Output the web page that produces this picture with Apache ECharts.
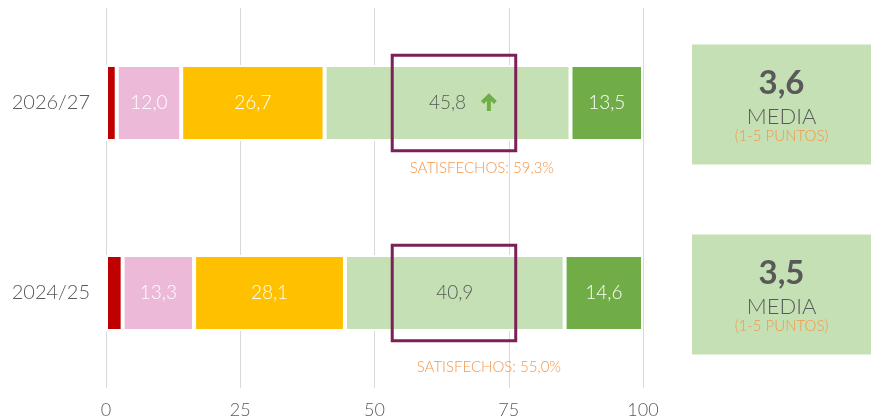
<!DOCTYPE html>
<html>
<head>
<meta charset="utf-8">
<script src="https://cdn.jsdelivr.net/npm/echarts@6/dist/echarts.min.js"></script>
<style>
    html, body { margin: 0; padding: 0; background: #fff; }
    #chart { width: 871px; height: 419px; }
</style>
</head>
<body>
<div id="chart"></div>
<script>
    // periodos (de abajo a arriba)
    const periods = ['2024/25', '2026/27']
    // % por nivel de satisfacción
    const muyInsatisfechos = [3.1, 2.0]
    const insatisfechos = [13.3, 12.0]
    const neutros = [28.1, 26.7]
    const satisfechos = [40.9, 45.8]
    const muySatisfechos = [14.6, 13.5]
    // anotaciones
    const totalSatisfechos = [55.0, 59.3]
    const medias = [3.5, 3.6]
    const tendencia = [null, 'up']
    const xTicks = [0, 25, 50, 75, 100]
    // tramo marcado con recuadro
    const recuadro = [53.3, 76.3]

    const GRAY = '#595959'
    const ORANGE = '#F79646'
    const FONT = 'Lato'
    const LIGHT = 300
    const fmt = v => v.toFixed(1).replace('.', ',')

    function barSeries (name, data, color, labelColor) {
        return {
            name: name,
            type: 'bar',
            stack: 'total',
            data: data,
            barWidth: 76,
            itemStyle: { color: color, borderColor: '#fff', borderWidth: 2 },
            label: {
                show: !!labelColor,
                position: 'inside',
                color: labelColor,
                fontSize: 19,
                fontWeight: LIGHT,
                fontFamily: FONT,
                formatter: p => fmt(p.value)
            }
        }
    }

    // recuadro, texto de satisfechos, flecha y caja de media
    function renderNotes (params, api) {
        const i = api.value(0)
        const a = api.coord([recuadro[0], i])
        const b = api.coord([recuadro[1], i])
        const h = api.size([0, 1])[1] * 0.503
        const cy = a[1]
        const children = [{
            type: 'rect',
            shape: { x: a[0], y: cy - h / 2, width: b[0] - a[0], height: h },
            style: { fill: 'none', stroke: '#7B2157', lineWidth: 3 }
        }, {
            type: 'text',
            x: api.coord([i === 0 ? 71.3 : 70.0, i])[0],
            y: cy + h / 2 + (i === 0 ? 26 : 17),
            style: {
                text: 'SATISFECHOS: ' + fmt(totalSatisfechos[i]) + '%',
                fill: ORANGE, fontSize: 15, fontWeight: LIGHT, fontFamily: FONT,
                align: 'center', verticalAlign: 'middle'
            }
        }]
        if (tendencia[i] === 'up') {
            const p = api.coord([71.3, i])
            children.push({
                type: 'polyline',
                shape: { points: [[p[0] - 6.5, p[1] - 0.5], [p[0], p[1] - 7], [p[0] + 6.5, p[1] - 0.5]] },
                style: { stroke: '#70AD47', lineWidth: 4, fill: 'none' }
            }, {
                type: 'line',
                shape: { x1: p[0], y1: p[1] - 7, x2: p[0], y2: p[1] + 8 },
                style: { stroke: '#70AD47', lineWidth: 4 }
            })
        }
        const bx = api.coord([100, i])[0] + 49
        const by = cy + 1.5
        const mx = (bx + api.getWidth()) / 2
        children.push({
            type: 'rect',
            shape: { x: bx, y: by - 60, width: api.getWidth() - bx, height: 120 },
            style: { fill: '#C5E0B4' }
        }, {
            type: 'text',
            x: mx, y: by - 21,
            style: { text: fmt(medias[i]), fill: GRAY, fontSize: 33, fontWeight: 'bold', fontFamily: FONT, align: 'center', verticalAlign: 'middle' }
        }, {
            type: 'text',
            x: mx, y: by + 12,
            style: { text: 'MEDIA', fill: GRAY, fontSize: 22, fontWeight: LIGHT, fontFamily: FONT, align: 'center', verticalAlign: 'middle' }
        }, {
            type: 'text',
            x: mx, y: by + 32,
            style: { text: '(1-5 PUNTOS)', fill: ORANGE, fontSize: 15, fontWeight: LIGHT, fontFamily: FONT, align: 'center', verticalAlign: 'middle' }
        })
        return { type: 'group', children: children }
    }

    const chart = echarts.init(document.getElementById('chart'))
    chart.setOption({
        animation: false,
        grid: { left: 106, right: 228, top: 8, bottom: 29 },
        xAxis: {
            type: 'value',
            min: xTicks[0],
            max: xTicks[xTicks.length - 1],
            interval: xTicks[1] - xTicks[0],
            axisLine: { show: false },
            axisTick: { show: false },
            splitLine: { lineStyle: { color: '#d9d9d9', width: 1 } },
            axisLabel: { color: GRAY, fontSize: 18, fontWeight: LIGHT, fontFamily: FONT, margin: 13 }
        },
        yAxis: {
            type: 'category',
            data: periods,
            axisLine: { show: false },
            axisTick: { show: false },
            axisLabel: { color: GRAY, fontSize: 20, fontWeight: LIGHT, fontFamily: FONT, margin: 16 }
        },
        series: [
            barSeries('Muy insatisfechos', muyInsatisfechos, '#C00000', null),
            barSeries('Insatisfechos', insatisfechos, '#EDB9D8', '#fff'),
            barSeries('Neutros', neutros, '#FFC000', '#fff'),
            barSeries('Satisfechos', satisfechos, '#C5E0B4', GRAY),
            barSeries('Muy satisfechos', muySatisfechos, '#70AD47', '#fff'),
            {
                type: 'custom',
                clip: false,
                z: 10,
                silent: true,
                renderItem: renderNotes,
                data: periods.map((p, i) => [i])
            }
        ]
    })
</script>
</body>
</html>
